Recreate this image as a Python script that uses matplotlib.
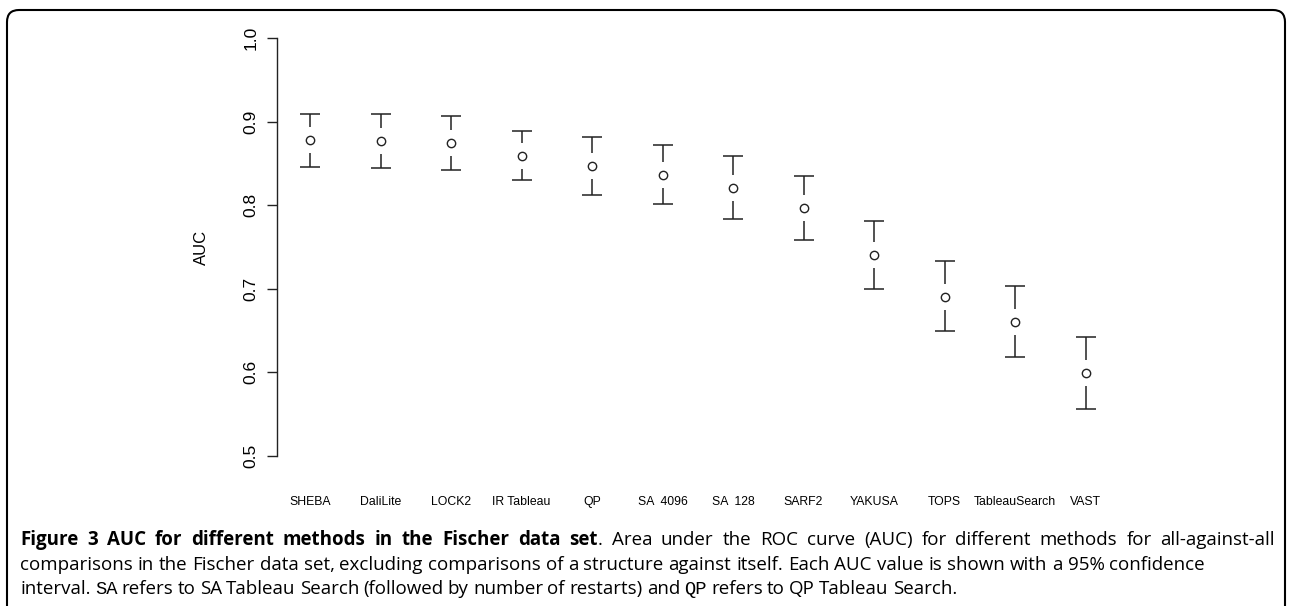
import matplotlib
matplotlib.use("Agg")
import matplotlib.pyplot as plt
from matplotlib.patches import FancyBboxPatch
from matplotlib.transforms import IdentityTransform

# AUC with 95% confidence interval
methods = ["SHEBA", "DaliLite", "LOCK2", "IR Tableau", "QP", "SA  4096", "SA  128",
           "SARF2", "YAKUSA", "TOPS", "TableauSearch", "VAST"]
auc = [0.878, 0.877, 0.874, 0.859, 0.847, 0.836, 0.821, 0.797, 0.740, 0.690, 0.660, 0.599]
ci_low = [0.846, 0.845, 0.842, 0.830, 0.812, 0.801, 0.783, 0.758, 0.700, 0.650, 0.618, 0.556]
ci_high = [0.909, 0.909, 0.907, 0.889, 0.882, 0.872, 0.859, 0.835, 0.781, 0.733, 0.703, 0.642]
yticks = [0.5, 0.6, 0.7, 0.8, 0.9, 1.0]

W, H = 1289, 606
fig = plt.figure(figsize=(W / 100, H / 100), dpi=100)
fig.patch.set_facecolor("white")

# plot area in pixels: y axis at x=277, 0.5 at y=456, 1.0 at y=38
ax = fig.add_axes([277 / W, 1 - 456 / H, (1200 - 277) / W, (456 - 38) / H])
ax.set_ylim(0.5, 1.0)
ax.set_xlim(1 - 33 / 70.5, 1 + 890 / 70.5)
for s in ["top", "right", "bottom"]:
    ax.spines[s].set_visible(False)
ax.spines["left"].set_linewidth(1.0)
ax.spines["left"].set_color("#222222")

pos = list(range(1, len(methods) + 1))
col = "#222222"
gap = 0.0155  # gap around the point (R plotCI style)
for x, m, lo, hi in zip(pos, auc, ci_low, ci_high):
    ax.vlines(x, m + gap, hi, color=col, lw=1.1)
    ax.vlines(x, lo, m - gap, color=col, lw=1.1)
ax.plot(pos, ci_high, ls="none", marker="_", ms=14.4, mew=1.1, color=col)
ax.plot(pos, ci_low, ls="none", marker="_", ms=14.4, mew=1.1, color=col)
ax.plot(pos, auc, ls="none", marker="o", ms=6, mfc="white", mec=col, mew=1.0)

plot_font = "Liberation Sans"
ax.set_yticks(yticks)
ax.set_yticklabels([f"{t:.1f}" for t in yticks], rotation=90, va="center",
                   fontsize=12.5, family=plot_font)
ax.tick_params(axis="y", length=7.2, width=1.0, color=col, pad=6)
ax.set_xticks(pos)
ax.set_xticklabels(methods, fontsize=8.8, family=plot_font)
ax.tick_params(axis="x", length=0, pad=29)
ax.text(-76 / 923, 0.5, "AUC", rotation=90, ha="center", va="center",
        fontsize=12, family=plot_font, transform=ax.transAxes)

# rounded frame around the figure
frame = FancyBboxPatch((7, -60), 1278, 656, boxstyle="round,pad=0,rounding_size=12",
                       transform=IdentityTransform(), fill=False, lw=1.5, ec="black")
fig.patches.append(frame)

# caption
cap_font = "Open Sans"
N = dict(family=cap_font)
B = dict(family=cap_font, weight="bold")
M = dict(family="Liberation Mono")
lines = [
    [("Figure 3 AUC for different methods in the Fischer data set", B),
     (". Area under the ROC curve (AUC) for different methods for all-against-all", N)],
    [("comparisons in the Fischer data set, excluding comparisons of a structure against itself. "
      "Each AUC value is shown with a 95% confidence", N)],
    [("interval. ", N), ("SA", M), (" refers to SA Tableau Search (followed by number of restarts) and ", N),
     ("QP", M), (" refers to QP Tableau Search.", N)],
]
baselines = [545, 570, 594]
line_ends = [1275, 1205, 957]

renderer = fig.canvas.get_renderer()


def words_of(runs):
    words = [[]]
    for text, style in runs:
        parts = text.split(" ")
        for i, p in enumerate(parts):
            if i > 0:
                words.append([])
            if p:
                words[-1].append((p, style))
    return [w for w in words if w]


def text_width(s, size, style):
    t = fig.text(0, 0, s, fontsize=size, **style)
    w = t.get_window_extent(renderer).width
    t.remove()
    return w


def natural_width(runs, size):
    words = words_of(runs)
    space = text_width("a a", size, N) - text_width("aa", size, N)
    total = sum(text_width(p, size, st) for w in words for p, st in w)
    return total + space * (len(words) - 1)


def draw_line(runs, x0, x1, ybase, size):
    words = words_of(runs)
    widths = [[text_width(p, size, st) for p, st in w] for w in words]
    total = sum(sum(ws) for ws in widths)
    space = (x1 - x0 - total) / (len(words) - 1)
    x = x0
    for word, ws in zip(words, widths):
        for (piece, style), w in zip(word, ws):
            fig.text(x / W, ybase / H, piece, fontsize=size, va="baseline", ha="left", **style)
            x += w
        x += space


# caption size fitted to the widths of the lower two lines
base = 12.0
scale = (1205 - 20 + 957 - 20) / (natural_width(lines[1], base) + natural_width(lines[2], base))
size = base * scale
for runs, yb, xe in zip(lines, baselines, line_ends):
    draw_line(runs, 20, xe, H - yb, size)

fig.savefig("out.png", dpi=100, facecolor="white")
